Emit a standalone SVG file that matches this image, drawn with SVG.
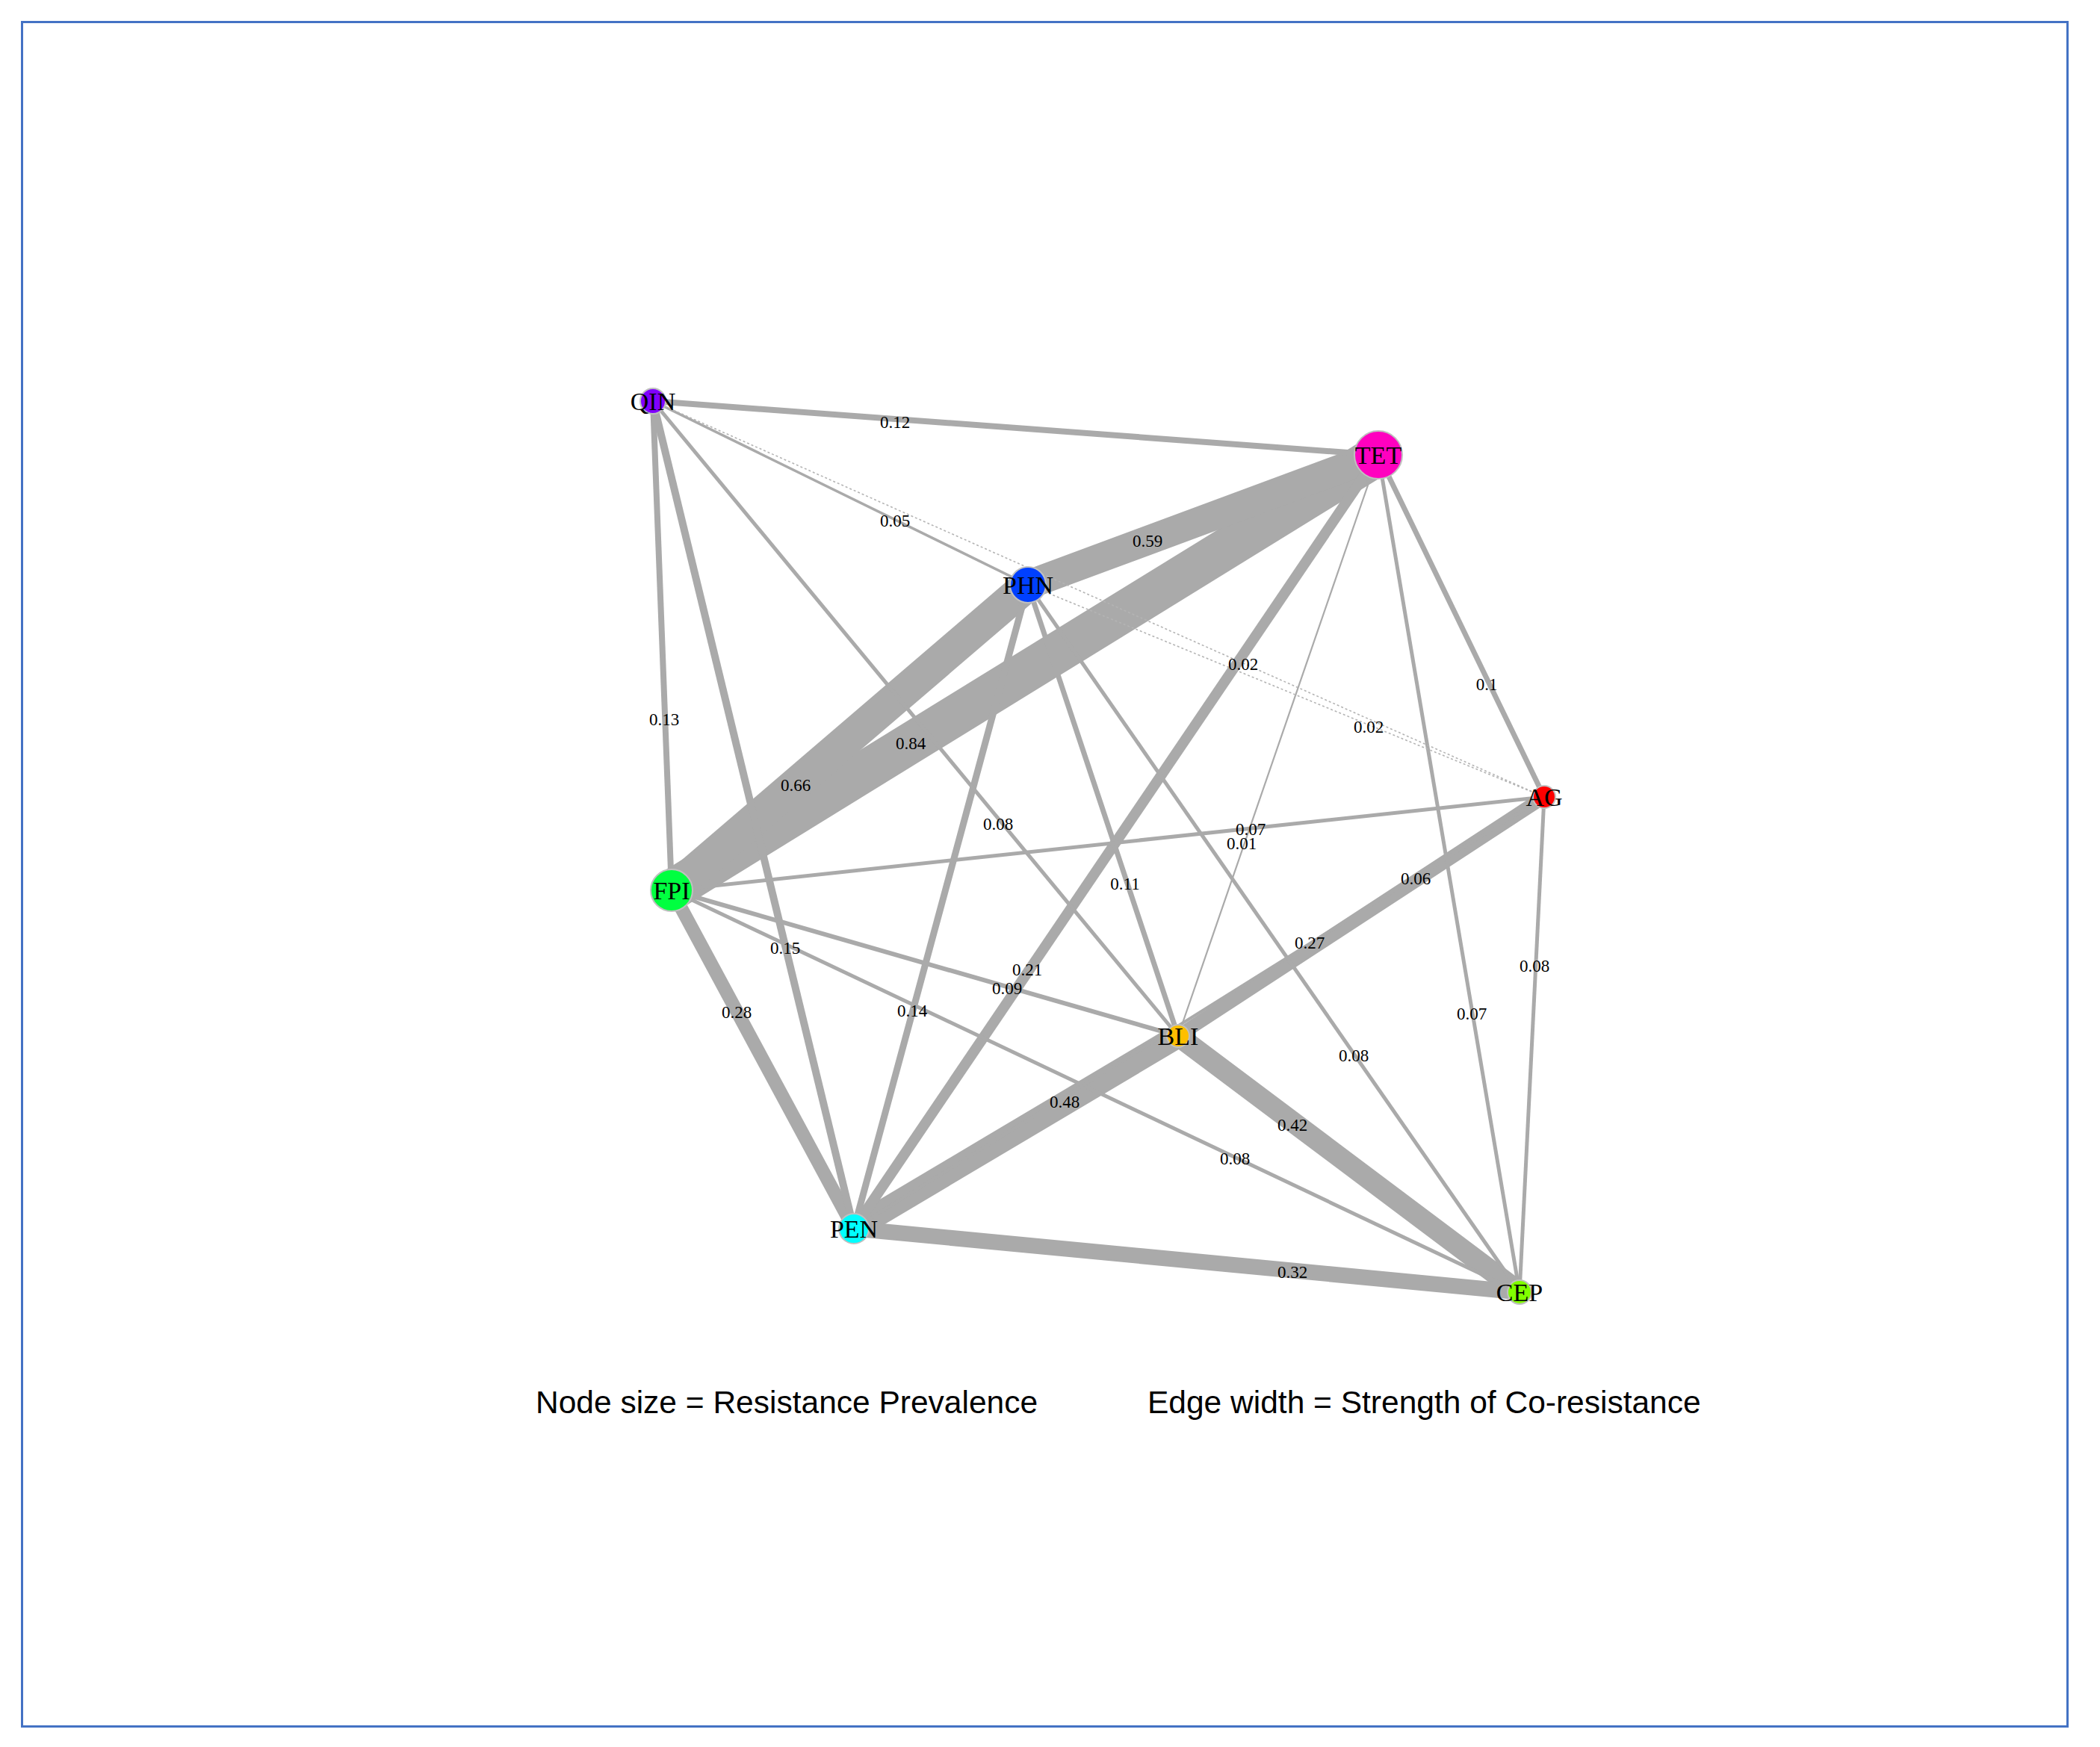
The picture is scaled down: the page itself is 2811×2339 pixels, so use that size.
<svg xmlns="http://www.w3.org/2000/svg" width="2811" height="2339" viewBox="0 0 2811 2339">
<style>
.e{stroke:#AAAAAA;stroke-linecap:butt;fill:none}
.d{stroke:#B4B4B4;stroke-width:1.6;stroke-dasharray:3 3;fill:none}
.n{stroke:#C0C0C0;stroke-width:2}
.nl{font-family:"Liberation Serif","Times New Roman",serif;font-size:34px;fill:#000;text-anchor:middle}
.el{font-family:"Liberation Serif","Times New Roman",serif;font-size:23px;fill:#000;text-anchor:middle}
.lg{font-family:"Liberation Sans",Arial,sans-serif;font-size:42.5px;fill:#000}
</style>
<rect x="0" y="0" width="2811" height="2339" fill="#FFFFFF"/>
<rect x="29.5" y="29.5" width="2738" height="2282" fill="none" stroke="#4472C4" stroke-width="3"/>
<g id="edges">
<line class="e" x1="1845" y1="609" x2="899" y2="1192" stroke-width="55"/>
<line class="e" x1="1376" y1="783" x2="899" y2="1192" stroke-width="44"/>
<line class="e" x1="1845" y1="609" x2="1376" y2="783" stroke-width="39"/>
<line class="e" x1="1577" y1="1387" x2="1143" y2="1645" stroke-width="32"/>
<line class="e" x1="1577" y1="1387" x2="2034" y2="1730" stroke-width="28"/>
<line class="e" x1="1143" y1="1645" x2="2034" y2="1730" stroke-width="21"/>
<line class="e" x1="899" y1="1192" x2="1143" y2="1645" stroke-width="18"/>
<line class="e" x1="2067" y1="1067" x2="1577" y2="1387" stroke-width="18"/>
<line class="e" x1="1845" y1="609" x2="1143" y2="1645" stroke-width="14"/>
<line class="e" x1="874" y1="537" x2="1143" y2="1645" stroke-width="10"/>
<line class="e" x1="874" y1="537" x2="899" y2="1192" stroke-width="8"/>
<line class="e" x1="874" y1="537" x2="1845" y2="609" stroke-width="8"/>
<line class="e" x1="1376" y1="783" x2="1143" y2="1645" stroke-width="9"/>
<line class="e" x1="1376" y1="783" x2="1577" y2="1387" stroke-width="7"/>
<line class="e" x1="1845" y1="609" x2="2067" y2="1067" stroke-width="7"/>
<line class="e" x1="899" y1="1192" x2="1577" y2="1387" stroke-width="6"/>
<line class="e" x1="874" y1="537" x2="1577" y2="1387" stroke-width="5"/>
<line class="e" x1="1845" y1="609" x2="2034" y2="1730" stroke-width="5"/>
<line class="e" x1="1376" y1="783" x2="2034" y2="1730" stroke-width="5"/>
<line class="e" x1="899" y1="1192" x2="2067" y2="1067" stroke-width="5"/>
<line class="e" x1="899" y1="1192" x2="2034" y2="1730" stroke-width="5"/>
<line class="e" x1="2067" y1="1067" x2="2034" y2="1730" stroke-width="5"/>
<line class="e" x1="2067" y1="1067" x2="1143" y2="1645" stroke-width="4"/>
<line class="e" x1="874" y1="537" x2="1376" y2="783" stroke-width="3.5"/>
<line class="e" x1="1845" y1="609" x2="1577" y2="1387" stroke-width="2.2"/>
<line class="d" x1="874" y1="537" x2="2067" y2="1067"/>
<line class="d" x1="1376" y1="783" x2="2067" y2="1067"/>
</g>
<g id="edge-labels">
<text class="el" x="1198" y="573">0.12</text>
<text class="el" x="1198" y="705">0.05</text>
<text class="el" x="1536" y="732">0.59</text>
<text class="el" x="1664" y="897">0.02</text>
<text class="el" x="1832" y="981">0.02</text>
<text class="el" x="1990" y="924">0.1</text>
<text class="el" x="889" y="971">0.13</text>
<text class="el" x="1219" y="1003">0.84</text>
<text class="el" x="1065" y="1059">0.66</text>
<text class="el" x="1336" y="1111">0.08</text>
<text class="el" x="1674" y="1118">0.07</text>
<text class="el" x="1662" y="1137">0.01</text>
<text class="el" x="1506" y="1191">0.11</text>
<text class="el" x="1895" y="1184">0.06</text>
<text class="el" x="1753" y="1270">0.27</text>
<text class="el" x="1051" y="1277">0.15</text>
<text class="el" x="2054" y="1301">0.08</text>
<text class="el" x="1375" y="1306">0.21</text>
<text class="el" x="1348" y="1331">0.09</text>
<text class="el" x="986" y="1363">0.28</text>
<text class="el" x="1221" y="1361">0.14</text>
<text class="el" x="1970" y="1365">0.07</text>
<text class="el" x="1812" y="1421">0.08</text>
<text class="el" x="1425" y="1483">0.48</text>
<text class="el" x="1730" y="1514">0.42</text>
<text class="el" x="1653" y="1559">0.08</text>
<text class="el" x="1730" y="1711">0.32</text>
</g>
<g id="node-QIN"><circle class="n" cx="874" cy="537" r="17" fill="#8000FF"/><text class="nl" x="874" y="549">QIN</text></g>
<g id="node-TET"><circle class="n" cx="1845" cy="609" r="32" fill="#FF00BF"/><text class="nl" x="1845" y="621">TET</text></g>
<g id="node-PHN"><circle class="n" cx="1376" cy="783" r="24" fill="#0040FF"/><text class="nl" x="1376" y="795">PHN</text></g>
<g id="node-AG"><circle class="n" cx="2067" cy="1067" r="15" fill="#FF0000"/><text class="nl" x="2067" y="1079">AG</text></g>
<g id="node-FPI"><circle class="n" cx="899" cy="1192" r="28" fill="#00FF40"/><text class="nl" x="899" y="1204">FPI</text></g>
<g id="node-BLI"><circle class="n" cx="1577" cy="1387" r="15" fill="#FFBF00"/><text class="nl" x="1577" y="1399">BLI</text></g>
<g id="node-PEN"><circle class="n" cx="1143" cy="1645" r="20" fill="#00FFFF"/><text class="nl" x="1143" y="1657">PEN</text></g>
<g id="node-CEP"><circle class="n" cx="2034" cy="1730" r="16" fill="#80FF00"/><text class="nl" x="2034" y="1742">CEP</text></g>
<g id="legend">
<text class="lg" x="717" y="1892">Node size = Resistance Prevalence</text>
<text class="lg" x="1536" y="1892">Edge width = Strength of Co-resistance</text>
</g>
</svg>
